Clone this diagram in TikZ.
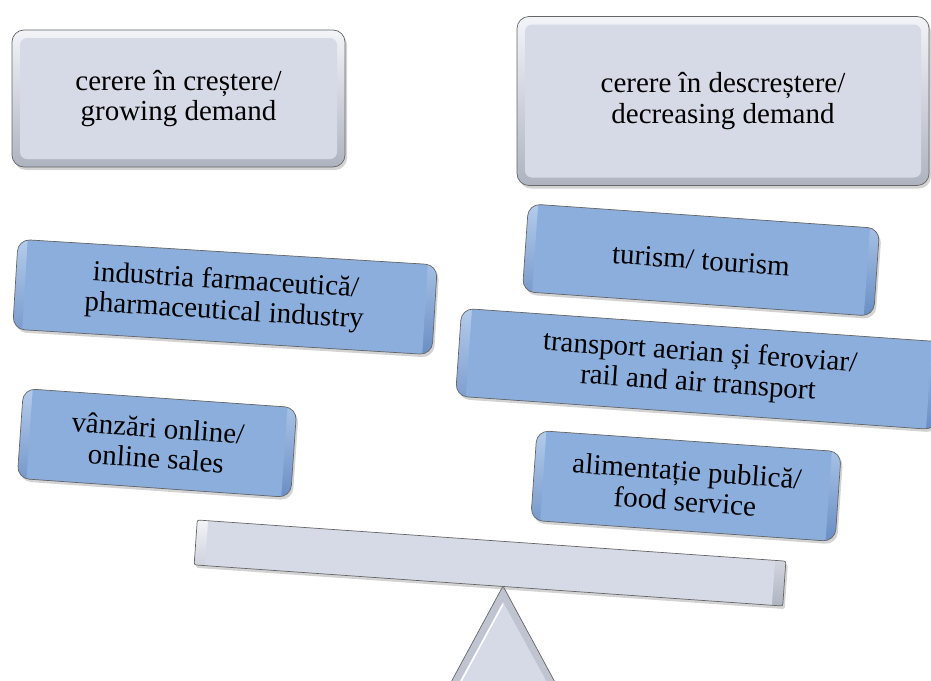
\documentclass[tikz,border=0pt]{standalone}
\usepackage{fontspec}
\setmainfont{Liberation Serif}
\usetikzlibrary{shadows}
\definecolor{grayface}{HTML}{D6DAE6}
\definecolor{grayhi}{HTML}{F2F4F8}
\definecolor{graylo}{HTML}{AEB3C0}
\definecolor{grayside}{HTML}{BFC4D0}
\definecolor{blueface}{HTML}{8CAEDC}
\definecolor{bluehi}{HTML}{B4CCEC}
\definecolor{bluelo}{HTML}{6A8EC4}

\tikzset{
  plate/.style={draw=black!60, line width=0.7pt, rounded corners=12pt, align=center,
    inner sep=0pt, font=\fontsize{29}{30.5}\selectfont,
    drop shadow={shadow xshift=2pt, shadow yshift=-3pt, opacity=0.35}},
  grayplate/.style={plate, top color=grayhi, bottom color=graylo,
    path picture={\fill[grayface, rounded corners=7pt]
      ([shift={(8pt,8pt)}]path picture bounding box.south west) rectangle
      ([shift={(-8pt,-8pt)}]path picture bounding box.north east);}},
  blueplate/.style={plate, top color=bluehi, bottom color=bluelo,
    path picture={\fill[blueface, rounded corners=7pt]
      ([shift={(8pt,7pt)}]path picture bounding box.south west) rectangle
      ([shift={(-8pt,-7pt)}]path picture bounding box.north east);}},
  beamplate/.style={grayplate, rounded corners=2pt, minimum width=590pt, minimum height=45pt}
}

\begin{document}
\begin{tikzpicture}[x=1pt,y=-1pt]
  \useasboundingbox (0,0) rectangle (931,680);

  \coordinate (up) at (178.5,98.5);
  \coordinate (down) at (723,101);
  \coordinate (pharma) at (225,297);
  \coordinate (online) at (157,443);
  \coordinate (tour) at (701,260);
  \coordinate (transp) at (699,369);
  \coordinate (food) at (686,486);
  \coordinate (beamc) at (490,563);
  \coordinate (tip) at (503,586);

  \node[grayplate,minimum width=333pt,minimum height=137pt] (GrowNode) at (up) {cerere în creștere/\\growing demand};
  \node[grayplate,minimum width=412pt,minimum height=169pt] (DropNode) at (down) {cerere în descreștere/\\decreasing demand};

  \node[blueplate,rotate=-3.5,minimum width=420pt,minimum height=90pt] (PharmaNode) at (pharma) {industria farmaceutică/\\pharmaceutical industry};
  \node[blueplate,rotate=-4,minimum width=274pt,minimum height=90pt] (OnlineNode) at (online) {vânzări online/\\online sales};

  \node[blueplate,rotate=-4,minimum width=352pt,minimum height=88pt] (TourNode) at (tour) {turism/ tourism};
  \node[blueplate,rotate=-4,minimum width=482pt,minimum height=88pt] (TranspNode) at (transp) {transport aerian și feroviar/\\rail and air transport};
  \node[blueplate,rotate=-4,minimum width=305pt,minimum height=90pt] (FoodNode) at (food) {alimentație publică/\\food service};

  \filldraw[draw=black!60, line width=0.7pt, fill=grayside] (tip) -- ++(-60,111) -- ++(120,0) -- cycle;
  \fill[grayface] ([yshift=-16pt]tip) -- ++(-52,95) -- ++(104,0) -- cycle;
  \draw[white, line width=1.5pt] ([yshift=-18pt]tip) -- ++(-50,92);

  \node[beamplate,rotate=-4] (BeamNode) at (beamc) {};
\end{tikzpicture}
\end{document}
